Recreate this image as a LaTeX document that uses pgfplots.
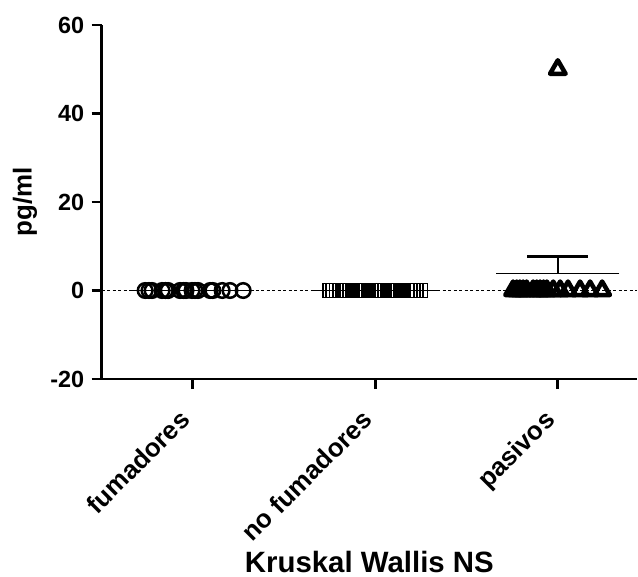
\documentclass[border=0pt]{standalone}
\usepackage{fontspec}
\setmainfont{Liberation Sans}
\usepackage{pgfplots}
\pgfplotsset{compat=1.18}

\newcommand{\tickfont}{\fontsize{23.5}{23.5}\selectfont\bfseries}
\newcommand{\catfont}{\fontsize{26}{26}\selectfont\bfseries}
\newcommand{\ylabfont}{\fontsize{26}{26}\selectfont\bfseries}
\newcommand{\labfont}{\fontsize{29.5}{29.5}\selectfont\bfseries}

\begin{document}
\begin{tikzpicture}
\begin{axis}[
  scale only axis,
  width=535.3bp, height=354bp,
  xmin=0.501, xmax=3.434,
  ymin=-20, ymax=60,
  axis x line=bottom, axis y line=left,
  axis line style={-, line width=2.6bp},
  xtick={1,2,3},
  xticklabels={fumadores, no fumadores, pasivos},
  ytick={-20,0,20,40,60},
  yticklabels={-20,0,20,40,60},
  tick align=outside,
  major tick length=10bp,
  every tick/.style={line width=2.6bp, black},
  x tick label style={font=\catfont, rotate=45, anchor=north east, inner sep=0pt,
                      xshift=-24bp, yshift=-3bp},
  y tick label style={font=\tickfont, xshift=-4bp},
  xlabel={Kruskal Wallis NS},
  ylabel={pg/ml},
  xlabel style={font=\labfont, at={(axis description cs:0.5,0)}, anchor=base,
                inner sep=0pt, yshift=-193bp},
  ylabel style={font=\ylabfont, at={(axis description cs:-0.1433,0.5)}, anchor=center},
  clip=false,
]

% dotted zero line
\addplot[black, line width=1bp, dash pattern=on 3bp off 2.5bp, mark=none]
  coordinates {(0.501,0) (3.434,0)};

% fumadores
\addplot[only marks, black, mark=o, mark size=7.3bp, line width=2.5bp]
  coordinates {(0.739,0) (0.760,0) (0.777,0) (0.832,0) (0.850,0) (0.865,0)
               (0.930,0) (0.950,0) (0.963,0) (0.996,0) (1.012,0) (1.029,0)
               (1.095,0) (1.110,0) (1.161,0) (1.204,0) (1.276,0)};

% no fumadores
\addplot[only marks, black, mark=square, mark size=7bp, line width=1.7bp]
  coordinates {(1.753,0) (1.770,0) (1.788,0) (1.805,0) (1.823,0) (1.840,0)
               (1.858,0) (1.875,0) (1.893,0) (1.910,0) (1.928,0) (1.945,0)
               (1.963,0) (1.980,0) (1.998,0) (2.015,0) (2.033,0) (2.050,0)
               (2.068,0) (2.085,0) (2.103,0) (2.120,0) (2.138,0) (2.155,0)
               (2.173,0) (2.190,0) (2.208,0) (2.225,0) (2.247,0)};

% pasivos
\addplot[only marks, black, mark=triangle, mark size=9bp, line width=4.5bp,
         mark options={line join=round}]
  coordinates {(2.755,0) (2.775,0) (2.792,0) (2.810,0) (2.829,0) (2.865,0)
               (2.885,0) (2.903,0) (2.922,0) (2.940,0) (2.975,0) (3.013,0)
               (3.056,0) (3.122,0) (3.177,0) (3.243,0)
               (3.000,50)};

% means (wide bar) and SEM for pasivos
\addplot[only marks, black, mark=-, mark size=61.7bp, line width=1.5bp]
  coordinates {(1,0) (2,0)};
\addplot[only marks, black, mark=-, mark size=61.7bp, line width=1.5bp,
         error bars/.cd, y dir=plus, y explicit,
         error mark=|, error mark options={mark size=30.5bp, line width=2.6bp},
         error bar style={line width=1.5bp}]
  coordinates {(3,3.85) +- (0,3.85)};

\end{axis}
\pgfresetboundingbox
\useasboundingbox (-101.7bp,-198bp) rectangle (536.3bp,379bp);
\end{tikzpicture}
\end{document}
